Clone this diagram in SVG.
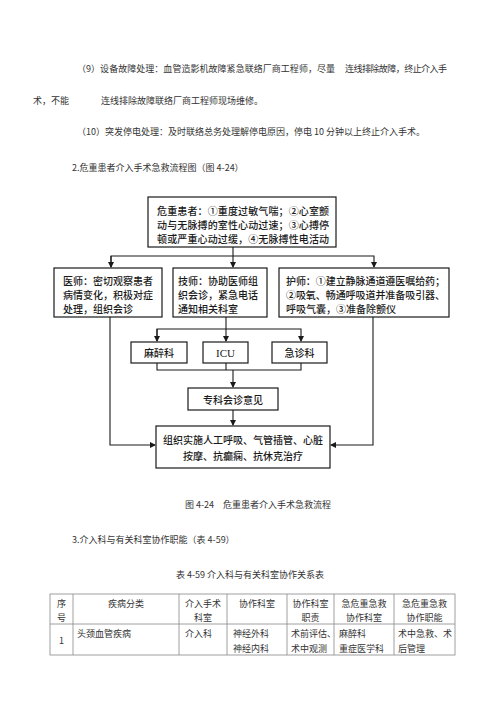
<svg xmlns="http://www.w3.org/2000/svg" width="500" height="707" viewBox="0 0 500 707">
<defs>
<marker id="arr" markerWidth="6" markerHeight="6" refX="5" refY="3" orient="auto" markerUnits="userSpaceOnUse">
<path d="M0,0 L6,3 L0,6 z" fill="#1a1a1a"/>
</marker>
<style>
.body{font-family:"Noto Sans CJK SC","Noto Sans",sans-serif;font-size:9px;fill:#333;dominant-baseline:central}
.dg{font-family:"Noto Sans CJK SC","Noto Sans",sans-serif;font-size:10px;font-weight:500;fill:#1a1a1a;dominant-baseline:central}
.mid{text-anchor:middle}
.box{fill:#fff;stroke:#1a1a1a;stroke-width:1.2}
.ln{fill:none;stroke:#1a1a1a;stroke-width:1.1}
.tb{fill:none;stroke:#888;stroke-width:0.8}
.tt{font-family:"Noto Sans CJK SC","Noto Sans",sans-serif;font-size:9px;fill:#333;dominant-baseline:central}
</style>
</defs>
<rect width="500" height="707" fill="#fff"/>

<g id="paragraphs">
<text class="body" x="77" y="68" textLength="258" lengthAdjust="spacing">（9）设备故障处理：血管造影机故障紧急联络厂商工程师，尽量</text>
<text class="body" x="345" y="68" textLength="102" lengthAdjust="spacing">连线排除故障，终止介入手</text>
<text class="body" x="33" y="100">术，不能</text>
<text class="body" x="101" y="100">连线排除故障联络厂商工程师现场维修。</text>
<text class="body" x="77" y="131">（10）突发停电处理：及时联络总务处理解停电原因，停电 10 分钟以上终止介入手术。</text>
<text class="body" x="72" y="167">2.危重患者介入手术急救流程图（图 4-24）</text>
</g>

<g id="connectors">
<polyline class="ln" points="233,247 233,267" marker-end="url(#arr)"/>
<polyline class="ln" points="111,267 111,256 374,256 374,267" marker-end="url(#arr)"/>
<line class="ln" x1="111" y1="256" x2="111" y2="267" marker-end="url(#arr)"/>
<polyline class="ln" points="226,317 226,329"/>
<polyline class="ln" points="157,341 157,329 301,329 301,341" marker-end="url(#arr)"/>
<line class="ln" x1="157" y1="329" x2="157" y2="341" marker-end="url(#arr)"/>
<line class="ln" x1="226" y1="329" x2="226" y2="341" marker-end="url(#arr)"/>
<polyline class="ln" points="157,363 157,370 301,370 301,363"/>
<line class="ln" x1="226" y1="363" x2="226" y2="370"/>
<line class="ln" x1="233" y1="370" x2="233" y2="387" marker-end="url(#arr)"/>
<line class="ln" x1="233" y1="410" x2="233" y2="425" marker-end="url(#arr)"/>
<polyline class="ln" points="110,317 110,445 155,445" marker-end="url(#arr)"/>
<polyline class="ln" points="373,317 373,445 331,445" marker-end="url(#arr)"/>
</g>

<g id="node-patient">
<rect class="box" x="148" y="197" width="188" height="50"/>
<text class="dg" x="157" y="210" textLength="172" lengthAdjust="spacing">危重患者：①重度过敏气喘；②心室颤</text>
<text class="dg" x="157" y="224" textLength="172" lengthAdjust="spacing">动与无脉搏的室性心动过速；③心搏停</text>
<text class="dg" x="157" y="238" textLength="172" lengthAdjust="spacing">顿或严重心动过缓，④无脉搏性电活动</text>
</g>

<g id="node-doctor">
<rect class="box" x="54" y="268" width="108" height="49"/>
<text class="dg" x="63" y="280">医师：密切观察患者</text>
<text class="dg" x="63" y="294">病情变化，积极对症</text>
<text class="dg" x="63" y="308">处理，组织会诊</text>
</g>

<g id="node-tech">
<rect class="box" x="173" y="268" width="94" height="49"/>
<text class="dg" x="178" y="280">技师：协助医师组</text>
<text class="dg" x="178" y="294">织会诊，紧急电话</text>
<text class="dg" x="178" y="308">通知相关科室</text>
</g>

<g id="node-nurse">
<rect class="box" x="279" y="268" width="170" height="49"/>
<text class="dg" x="286" y="280" textLength="159" lengthAdjust="spacing">护师：①建立静脉通道遵医嘱给药；</text>
<text class="dg" x="286" y="294" textLength="159" lengthAdjust="spacing">②吸氧、畅通呼吸道并准备吸引器、</text>
<text class="dg" x="286" y="308">呼吸气囊，③准备除颤仪</text>
</g>

<g id="node-anesthesia">
<rect class="box" x="131" y="342" width="56" height="21"/>
<text class="dg mid" x="159" y="352.5">麻醉科</text>
</g>
<g id="node-icu">
<rect class="box" x="203" y="342" width="45" height="21"/>
<text class="dg mid" x="225.5" y="352.5" style="font-family:'Liberation Serif',serif;font-size:11px">ICU</text>
</g>
<g id="node-emergency">
<rect class="box" x="272" y="342" width="55" height="21"/>
<text class="dg mid" x="299.5" y="352.5">急诊科</text>
</g>

<g id="node-consult">
<rect class="box" x="188" y="388" width="90" height="22"/>
<text class="dg mid" x="233" y="399">专科会诊意见</text>
</g>

<g id="node-treatment">
<rect class="box" x="156" y="426" width="174" height="42"/>
<text class="dg mid" x="243" y="439">组织实施人工呼吸、气管插管、心脏</text>
<text class="dg mid" x="243" y="455">按摩、抗癫痫、抗休克治疗</text>
</g>

<g id="captions">
<text class="body mid" x="258" y="504">图 4-24　危重患者介入手术急救流程</text>
<text class="body" x="72" y="539">3.介入科与有关科室协作职能（表 4-59）</text>
<text class="body mid" x="250" y="574">表 4-59 介入科与有关科室协作关系表</text>
</g>

<g id="table">
<rect class="tb" x="50" y="594" width="405" height="61"/>
<line class="tb" x1="50" y1="624" x2="455" y2="624"/>
<line class="tb" x1="73" y1="594" x2="73" y2="655"/>
<line class="tb" x1="179" y1="594" x2="179" y2="655"/>
<line class="tb" x1="227" y1="594" x2="227" y2="655"/>
<line class="tb" x1="287" y1="594" x2="287" y2="655"/>
<line class="tb" x1="334" y1="594" x2="334" y2="655"/>
<line class="tb" x1="394" y1="594" x2="394" y2="655"/>
<text class="tt mid" x="61.5" y="603">序</text>
<text class="tt mid" x="61.5" y="617">号</text>
<text class="tt mid" x="126" y="603">疾病分类</text>
<text class="tt mid" x="203" y="603">介入手术</text>
<text class="tt mid" x="203" y="617">科室</text>
<text class="tt mid" x="257" y="603">协作科室</text>
<text class="tt mid" x="310.5" y="603">协作科室</text>
<text class="tt mid" x="310.5" y="617">职责</text>
<text class="tt mid" x="364" y="603">急危重急救</text>
<text class="tt mid" x="364" y="617">协作科室</text>
<text class="tt mid" x="424.5" y="603">急危重急救</text>
<text class="tt mid" x="424.5" y="617">协作职能</text>
<text class="tt mid" x="61.5" y="640">1</text>
<text class="tt" x="77" y="633">头颈血管疾病</text>
<text class="tt" x="185" y="633">介入科</text>
<text class="tt" x="233" y="633">神经外科</text>
<text class="tt" x="233" y="648">神经内科</text>
<text class="tt" x="291" y="633">术前评估、</text>
<text class="tt" x="291" y="648">术中观测</text>
<text class="tt" x="339" y="633">麻醉科</text>
<text class="tt" x="339" y="648">重症医学科</text>
<text class="tt" x="398" y="633">术中急救、术</text>
<text class="tt" x="398" y="648">后管理</text>
</g>
</svg>
